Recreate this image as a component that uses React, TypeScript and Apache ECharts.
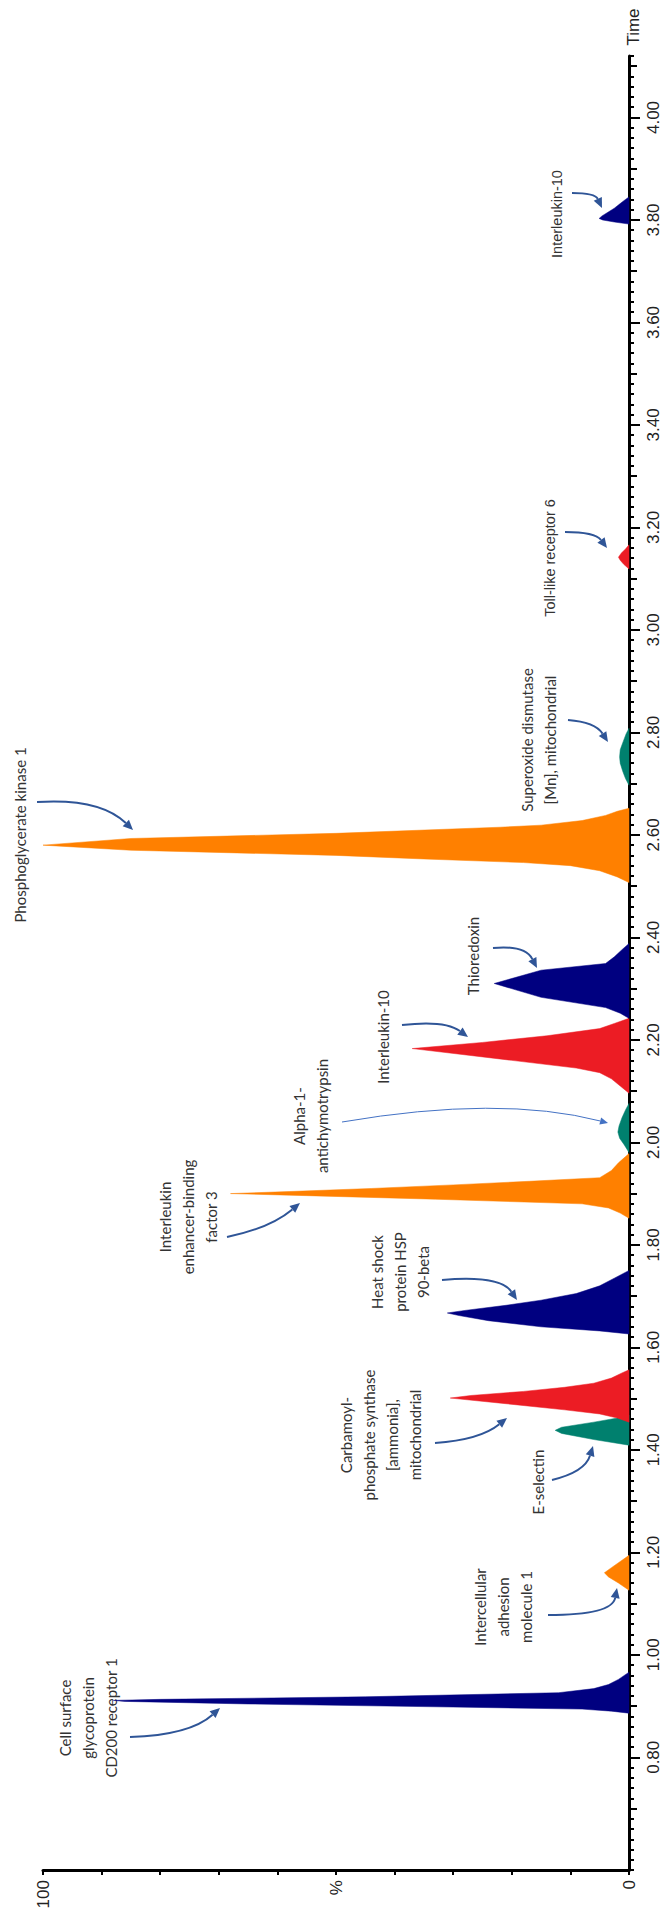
import { useEffect, useRef } from "react";
import * as echarts from "echarts";

// ---------- data ----------
const TIME_MIN = 0.58;
const TIME_MAX = 4.12;
const TIME_LABEL_VALUES = [0.8, 1.0, 1.2, 1.4, 1.6, 1.8, 2.0, 2.2, 2.4, 2.6, 2.8, 3.0, 3.2, 3.4, 3.6, 3.8, 4.0];
const TIME_MID_TICKS = [0.7, 0.9, 1.1, 1.3, 1.5, 1.7, 1.9, 2.1, 2.3, 2.5, 2.7, 2.9, 3.1, 3.3, 3.5, 3.7, 3.9, 4.1];
const PCT_LABELS: Record<number, string> = { 0: "0", 50: "%", 100: "100" };

const NAVY = "#000080";
const ORANGE = "#ff8000";
const RED = "#ec1c24";
const TEAL = "#00806e";

// peak outlines: retention time (min) and relative intensity (%)
const CD200R1_T = [0.886, 0.890, 0.894, 0.898, 0.904, 0.909, 0.911, 0.913, 0.918, 0.926, 0.934, 0.942, 0.952, 0.966];
const CD200R1_P = [0, 3, 8, 30, 65, 86, 88, 80, 45, 12, 6, 3.5, 1.8, 0];
const ICAM1_T = [1.126, 1.140, 1.152, 1.160, 1.170, 1.182, 1.194];
const ICAM1_P = [0, 1.8, 3.5, 4.2, 3.0, 1.5, 0];
const SELE_T = [1.409, 1.420, 1.432, 1.438, 1.444, 1.454, 1.463, 1.468];
const SELE_P = [0, 6, 11.5, 12.6, 11.5, 6, 1.5, 0];
const CPS1_T = [1.454, 1.462, 1.470, 1.478, 1.490, 1.501, 1.506, 1.514, 1.522, 1.530, 1.540, 1.550, 1.556];
const CPS1_P = [0, 2, 5, 11, 21, 30.5, 27, 18, 11, 6, 3, 1.2, 0];
const HSP90B_T = [1.626, 1.632, 1.640, 1.652, 1.662, 1.667, 1.672, 1.682, 1.692, 1.705, 1.720, 1.735, 1.750];
const HSP90B_P = [0, 5, 15, 24, 29, 31, 28, 21, 15, 9, 5, 2.5, 0];
const ILF3_T = [1.852, 1.862, 1.872, 1.880, 1.889, 1.896, 1.900, 1.904, 1.910, 1.917, 1.924, 1.931, 1.945, 1.960, 1.978];
const ILF3_P = [0, 1.5, 3.5, 8, 33, 55, 68, 58, 44, 30, 17, 5, 3, 1.8, 0];
const ACT_T = [1.980, 1.995, 2.008, 2.020, 2.032, 2.048, 2.063, 2.076];
const ACT_P = [0, 0.8, 1.6, 1.9, 1.7, 1.2, 0.6, 0];
const IL10A_T = [2.096, 2.110, 2.124, 2.136, 2.145, 2.160, 2.183, 2.195, 2.208, 2.222, 2.232, 2.242];
const IL10A_P = [0, 1.5, 3, 5, 9, 20, 37, 25, 14, 5, 2.5, 0];
const TXN_T = [2.242, 2.252, 2.263, 2.283, 2.310, 2.336, 2.349, 2.362, 2.376, 2.388];
const TXN_P = [0, 1.5, 4, 15, 23, 15, 4, 2.5, 1.2, 0];
const PGK1_T = [2.507, 2.518, 2.530, 2.540, 2.546, 2.553, 2.560, 2.570, 2.580, 2.593, 2.603, 2.615, 2.619, 2.628, 2.638, 2.646, 2.652];
const PGK1_P = [0, 2, 5, 10, 18, 35, 50, 85, 100, 85, 50, 22, 15, 8, 4, 2, 0];
const SOD2_T = [2.697, 2.710, 2.725, 2.740, 2.752, 2.766, 2.782, 2.797, 2.808];
const SOD2_P = [0, 0.6, 1.1, 1.5, 1.6, 1.5, 1.0, 0.5, 0];
const TLR6_T = [3.119, 3.128, 3.136, 3.142, 3.150, 3.158, 3.166];
const TLR6_P = [0, 0.9, 1.5, 1.8, 1.3, 0.6, 0];
const IL10B_T = [3.792, 3.796, 3.800, 3.803, 3.808, 3.815, 3.823, 3.832, 3.840, 3.845];
const IL10B_P = [0, 2.5, 4.5, 5.1, 4.6, 3.6, 2.5, 1.5, 0.6, 0];

const PEAKS = [
  { t: CD200R1_T, p: CD200R1_P, color: NAVY },
  { t: ICAM1_T, p: ICAM1_P, color: ORANGE },
  { t: SELE_T, p: SELE_P, color: TEAL },
  { t: CPS1_T, p: CPS1_P, color: RED },
  { t: HSP90B_T, p: HSP90B_P, color: NAVY },
  { t: ILF3_T, p: ILF3_P, color: ORANGE },
  { t: ACT_T, p: ACT_P, color: TEAL },
  { t: IL10A_T, p: IL10A_P, color: RED },
  { t: TXN_T, p: TXN_P, color: NAVY },
  { t: PGK1_T, p: PGK1_P, color: ORANGE },
  { t: SOD2_T, p: SOD2_P, color: TEAL },
  { t: TLR6_T, p: TLR6_P, color: RED },
  { t: IL10B_T, p: IL10B_P, color: NAVY },
];

// annotations: [text, centre x, centre y, font]
const LABELS: [string, number, number, string][] = [
  ["Cell surface\nglycoprotein\nCD200 receptor 1", 88, 1718, "Lato"],
  ["Intercellular\nadhesion\nmolecule 1", 503, 1607, "Lato"],
  ["Carbamoyl-\nphosphate synthase\n[ammonia],\nmitochondrial", 380, 1435, "Lato"],
  ["E-selectin", 538, 1482, "Lato"],
  ["Heat shock\nprotein HSP\n90-beta", 400, 1272, "Lato"],
  ["Interleukin\nenhancer-binding\nfactor 3", 188, 1217, "Lato"],
  ["Alpha-1-\nantichymotrypsin", 310, 1116, "Lato"],
  ["Interleukin-10", 383, 1037, "Lato"],
  ["Thioredoxin", 473, 956, "Lato"],
  ["Phosphoglycerate kinase 1", 20, 835, "Lato"],
  ["Superoxide dismutase\n[Mn], mitochondrial", 538, 740, "Lato"],
  ["Toll-like receptor 6", 550, 558, "Liberation Sans"],
  ["Interleukin-10", 557, 214, "Liberation Sans"],
];

// arrows: start, control, end, width
const ARROWS: number[][] = [
  [130, 1737, 190, 1735, 220, 1708, 2],
  [548, 1615, 612, 1615, 617, 1588, 2],
  [435, 1443, 480, 1440, 507, 1418, 2],
  [552, 1480, 585, 1472, 593, 1446, 2],
  [442, 1280, 500, 1275, 517, 1300, 2],
  [227, 1237, 270, 1228, 300, 1203, 2],
  [342, 1122, 500, 1095, 608, 1123, 1],
  [402, 1025, 445, 1020, 468, 1037, 2],
  [493, 948, 525, 945, 537, 968, 2],
  [37, 802, 100, 798, 133, 830, 2],
  [568, 720, 595, 722, 608, 742, 2],
  [565, 532, 595, 532, 607, 548, 2],
  [572, 193, 595, 193, 602, 208, 2],
];

const ARROW_COLOR = "#2f5597";

function arrowEls(a: number[]) {
  const [x1, y1, cx, cy, x2, y2, w] = a;
  const ang = Math.atan2(y2 - cy, x2 - cx);
  const head = w > 1.5 ? 10 : 8;
  const bx = x2 - head * Math.cos(ang);
  const by = y2 - head * Math.sin(ang);
  const hw = head * 0.45;
  const px = -Math.sin(ang) * hw;
  const py = Math.cos(ang) * hw;
  const col = w > 1.5 ? ARROW_COLOR : "#4472c4";
  return [
    {
      type: "bezierCurve",
      silent: true,
      shape: { x1, y1, x2: bx, y2: by, cpx1: cx, cpy1: cy },
      style: { stroke: col, lineWidth: w, fill: null },
    },
    {
      type: "polygon",
      silent: true,
      shape: { points: [[x2, y2], [bx + px, by + py], [bx - px, by - py]] },
      style: { fill: col },
    },
  ];
}

export default function App() {
  const ref = useRef<HTMLDivElement>(null);
  useEffect(() => {
    if (!ref.current) return;
    const chart = echarts.init(ref.current, null, { renderer: "svg" });
    const graphics: any[] = [];
    LABELS.forEach(([text, x, y, font]) => {
      graphics.push({
        type: "text",
        x,
        y,
        rotation: Math.PI / 2,
        silent: true,
        style: {
          text,
          fill: "#333333",
          fontSize: font === "Lato" ? 15 : 14.5,
          fontFamily: font,
          align: "center",
          verticalAlign: "middle",
          lineHeight: 23,
        },
      });
    });
    ARROWS.forEach((a) => graphics.push(...arrowEls(a)));
    graphics.push({
      type: "text",
      x: 633,
      y: 27,
      rotation: Math.PI / 2,
      silent: true,
      style: {
        text: "Time",
        fill: "#222",
        fontSize: 17,
        fontFamily: "Liberation Sans",
        align: "center",
        verticalAlign: "middle",
      },
    });

    const axisBase = {
      type: "value",
      position: "right",
      min: TIME_MIN,
      max: TIME_MAX,
      splitLine: { show: false },
    };

    chart.setOption({
      animation: false,
      backgroundColor: "#ffffff",
      grid: { left: 43, right: 39, top: 56, bottom: 44, containLabel: false },
      xAxis: {
        type: "value",
        min: 0,
        max: 100,
        interval: 10,
        inverse: true,
        position: "bottom",
        axisLine: { show: true, lineStyle: { color: "#000", width: 3 } },
        axisTick: { show: true, length: 5, lineStyle: { color: "#000", width: 2 } },
        axisLabel: {
          rotate: 90,
          margin: 10,
          color: "#222",
          fontSize: 17,
          fontFamily: "Liberation Sans",
          formatter: (v: number) => PCT_LABELS[Math.round(v)] ?? "",
        },
        splitLine: { show: false },
      },
      yAxis: [
        {
          ...axisBase,
          axisLine: { show: true, onZero: false, lineStyle: { color: "#000", width: 3 } },
          axisTick: { show: true, customValues: TIME_LABEL_VALUES, length: 11, lineStyle: { color: "#000", width: 2 } },
          axisLabel: {
            customValues: TIME_LABEL_VALUES,
            rotate: 90,
            margin: 16,
            color: "#222",
            fontSize: 17,
            fontFamily: "Liberation Sans",
            formatter: (v: number) => v.toFixed(2),
          },
        },
        {
          ...axisBase,
          axisLine: { show: false },
          axisTick: { show: true, customValues: TIME_MID_TICKS, length: 8, lineStyle: { color: "#000", width: 2 } },
          axisLabel: { show: false },
        },
        {
          ...axisBase,
          interval: 0.02,
          axisLine: { show: false },
          axisTick: { show: true, length: 5, lineStyle: { color: "#000", width: 2 } },
          axisLabel: { show: false },
        },
      ],
      series: [
        {
          type: "custom",
          xAxisIndex: 0,
          yAxisIndex: 0,
          silent: true,
          data: PEAKS.map((pk) => {
            const m = Math.max(...pk.p);
            return [m, pk.t[pk.p.indexOf(m)]];
          }),
          renderItem: (params: any, api: any) => {
            const pk = PEAKS[params.dataIndex];
            const pts = pk.t.map((t, i) => api.coord([pk.p[i], t]));
            return {
              type: "polygon",
              shape: { points: pts },
              style: { fill: pk.color, stroke: pk.color, lineWidth: 0.5 },
            };
          },
        },
      ],
      graphic: graphics,
    });
    return () => chart.dispose();
  }, []);
  return (
    <div
      ref={ref}
      style={{ position: "absolute", left: 0, top: 0, width: 668, height: 1914, background: "#fff" }}
    />
  );
}
